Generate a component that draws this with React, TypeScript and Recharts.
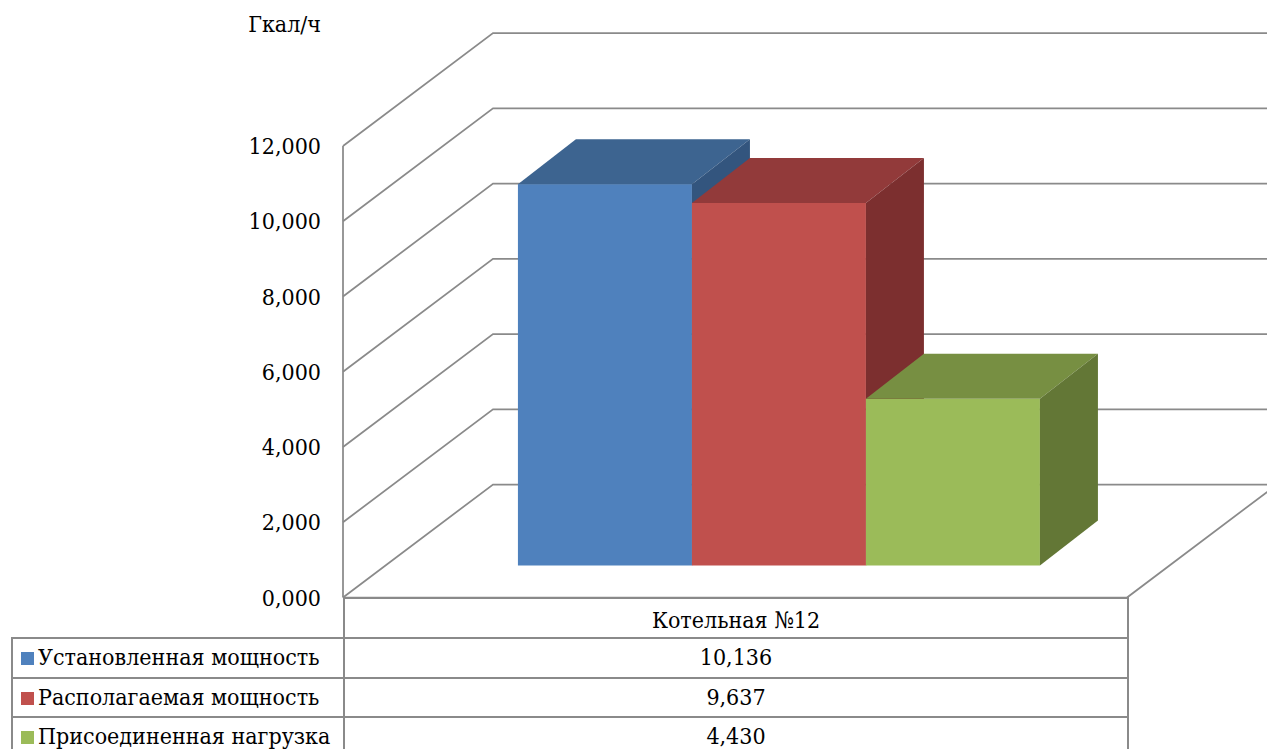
import { BarChart, Bar, XAxis, YAxis, CartesianGrid } from 'recharts';

const categories = ['Котельная №12'];
const installed = [10.136];
const available = [9.637];
const connected = [4.43];
const yTicks = [0, 2, 4, 6, 8, 10, 12];
const unit = 'Гкал/ч';

const series = [
  { key: 'installed', label: 'Установленная мощность', values: installed, front: '#4f81bd', top: '#3d6490', side: '#33557e' },
  { key: 'available', label: 'Располагаемая мощность', values: available, front: '#c0504d', top: '#923a3a', side: '#7c2f2f' },
  { key: 'connected', label: 'Присоединенная нагрузка', values: connected, front: '#9bbb59', top: '#778f42', side: '#637736' },
];

const data = categories.map((name, i) => {
  const row: Record<string, string | number> = { name };
  series.forEach((s) => {
    row[s.key] = s.values[i];
  });
  return row;
});

const W = 1267;
const H = 749;
const FONT = '"DejaVu Serif Condensed", "DejaVu Serif", serif';
const FS = 23;
const GRID = '#8a8a8a';

// depth of the walls, and where the bars sit inside it
const WALL_DX = 150;
const WALL_DY = 113;
const FRONT_DX = 44;
const FRONT_DY = 32;
const BAR_DX = 58;
const BAR_DY = 45;

const fmt = (v: number) => v.toFixed(3).replace('.', ',');

function Box3D(props: any) {
  const { x, y, width, height, front, top, side } = props;
  if (width == null || height == null) return null;
  const fx = x + FRONT_DX;
  const fy = y - FRONT_DY;
  const r = fx + width;
  const b = fy + height;
  return (
    <g>
      <rect x={fx} y={fy} width={width} height={height} fill={front} />
      <polygon
        points={`${fx},${fy} ${fx + BAR_DX},${fy - BAR_DY} ${r + BAR_DX},${fy - BAR_DY} ${r},${fy}`}
        fill={top}
      />
      <polygon
        points={`${r},${fy} ${r + BAR_DX},${fy - BAR_DY} ${r + BAR_DX},${b - BAR_DY} ${r},${b}`}
        fill={side}
      />
    </g>
  );
}

function GridLine(props: any) {
  const { x1, x2, y1, y, height, index } = props;
  const isFloor = Math.abs(y1 - (y + height)) < 1;
  return (
    <g key={`grid-${index}`}>
      <path
        d={`M${x1},${y1} L${x1 + WALL_DX},${y1 - WALL_DY} L${W},${y1 - WALL_DY}`}
        fill="none"
        stroke={GRID}
        strokeWidth={1.75}
      />
      {isFloor && (
        <path
          d={`M${x1},${y1} L${x2},${y1} L${x2 + WALL_DX},${y1 - WALL_DY}`}
          fill="none"
          stroke={GRID}
          strokeWidth={1.75}
        />
      )}
    </g>
  );
}

const cellBorder = `2px solid ${GRID}`;

export default function App() {
  return (
    <div style={{ position: 'absolute', left: 0, top: 0, width: W, height: H, background: '#fff', overflow: 'hidden', fontFamily: FONT }}>
      <div style={{ position: 'absolute', right: W - 321, top: 11, fontSize: FS, color: '#000', fontFamily: FONT }}>{unit}</div>
      <BarChart
        width={W}
        height={H}
        data={data}
        margin={{ top: 146, right: 140, bottom: 151.5, left: 243 }}
        barCategoryGap="16.7%"
        barGap={0}
      >
        <CartesianGrid vertical={false} horizontal={GridLine} />
        <XAxis dataKey="name" hide />
        <YAxis
          width={100}
          domain={[0, 12]}
          ticks={yTicks}
          tickFormatter={fmt}
          tickLine={false}
          tickSize={0}
          tickMargin={22}
          axisLine={{ stroke: GRID, strokeWidth: 1.75 }}
          tick={{ fontSize: FS, fill: '#000', fontFamily: FONT }}
        />
        {series.map((s) => (
          <Bar
            key={s.key}
            dataKey={s.key}
            name={s.label}
            fill={s.front}
            isAnimationActive={false}
            shape={(p: any) => <Box3D {...p} front={s.front} top={s.top} side={s.side} />}
          />
        ))}
      </BarChart>
      <table
        style={{
          position: 'absolute',
          left: 11,
          top: 597,
          width: 1116,
          borderCollapse: 'collapse',
          tableLayout: 'fixed',
          fontSize: FS,
          fontFamily: FONT,
          color: '#000',
        }}
      >
        <colgroup>
          <col style={{ width: 332 }} />
          {categories.map((c) => (
            <col key={c} style={{ width: 784 }} />
          ))}
        </colgroup>
        <tbody>
          <tr style={{ height: 40 }}>
            <td style={{ border: 'none', padding: 0 }} />
            {categories.map((c) => (
              <td key={c} style={{ border: cellBorder, padding: 0, textAlign: 'center', verticalAlign: 'bottom', lineHeight: '33px' }}>
                {c}
              </td>
            ))}
          </tr>
          {series.map((s) => (
            <tr key={s.key} style={{ height: 39.5 }}>
              <td style={{ border: cellBorder, padding: '0 0 0 8px', whiteSpace: 'nowrap', overflow: 'hidden', lineHeight: '35px' }}>
                <span style={{ display: 'inline-block', width: 13, height: 13, background: s.front, marginRight: 4 }} />
                {s.label}
              </td>
              {s.values.map((v, i) => (
                <td key={i} style={{ border: cellBorder, padding: 0, textAlign: 'center', lineHeight: '35px' }}>
                  {fmt(v)}
                </td>
              ))}
            </tr>
          ))}
        </tbody>
      </table>
    </div>
  );
}
